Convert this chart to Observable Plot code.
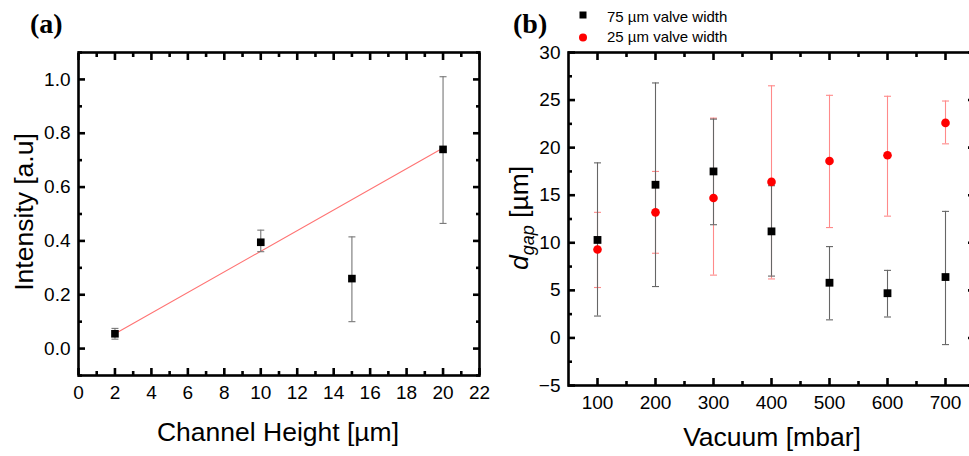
<!DOCTYPE html>
<html><head><meta charset="utf-8">
<script src="https://cdn.jsdelivr.net/npm/d3@7"></script>
<script src="https://cdn.jsdelivr.net/npm/@observablehq/plot@0.6"></script>
<style>
body{margin:0;overflow:hidden;background:#fff;}
#wrap{position:relative;width:969px;height:456px;overflow:hidden;background:#fff;}
#wrap svg{position:absolute;top:0;overflow:visible;}
</style></head><body><div id="wrap"></div>
<script>
// ---- Panel (a) data ----
const channelHeight = [2, 10, 15, 20];
const intensity     = [0.055, 0.395, 0.26, 0.74];
const intensityLo   = [0.035, 0.36, 0.10, 0.465];
const intensityHi   = [0.075, 0.44, 0.415, 1.01];
const fitX = [2, 20];
const fitY = [0.055, 0.745];
const xTicksA = [0, 2, 4, 6, 8, 10, 12, 14, 16, 18, 20, 22];
const xMinorA = [1, 3, 5, 7, 9, 11, 13, 15, 17, 19, 21];
const yTicksA = [0.0, 0.2, 0.4, 0.6, 0.8, 1.0];
const yMinorA = [-0.1, 0.1, 0.3, 0.5, 0.7, 0.9, 1.1];

// ---- Panel (b) data ----
const vacuum = [100, 200, 300, 400, 500, 600, 700];
const gap75   = [10.3, 16.1, 17.5, 11.2, 5.8, 4.7, 6.4];
const gap75Lo = [2.3, 5.4, 11.9, 6.5, 1.9, 2.2, -0.7];
const gap75Hi = [18.4, 26.8, 23.0, 16.0, 9.6, 7.1, 13.3];
const gap25   = [9.3, 13.2, 14.7, 16.4, 18.6, 19.2, 22.6];
const gap25Lo = [5.3, 8.9, 6.6, 6.2, 11.6, 12.8, 20.4];
const gap25Hi = [13.2, 17.5, 23.1, 26.5, 25.5, 25.4, 24.9];
const xTicksB = [100, 200, 300, 400, 500, 600, 700];
const xMinorB = [150, 250, 350, 450, 550, 650, 750];
const yTicksB = [-5, 0, 5, 10, 15, 20, 25, 30];
const yMinorB = [-2.5, 2.5, 7.5, 12.5, 17.5, 22.5, 27.5];
const seriesNames = ["75 \u00b5m valve width", "25 \u00b5m valve width"];

const wrap = document.getElementById("wrap");
const len = (size) => Math.sqrt(size / Math.PI);
const cap = {draw(ctx, s) { const w = len(s); ctx.moveTo(-w, 0); ctx.lineTo(w, 0); }};
const font = {fontFamily: "Arial, 'Liberation Sans', sans-serif", fontSize: "19px", color: "black", overflow: "visible"};

function frameTicks(xMaj, xMin, yMaj, yMin, xfmt, yfmt, xPad, yPad) {
  const m = [];
  const blank = () => "";
  const o = {tickFormat: blank, label: null, stroke: "black", strokeWidth: 2.6};
  for (const [arr, k] of [[xMaj, 7], [xMin, 4]]) {
    m.push(Plot.axisX(arr, {anchor: "bottom", tickSize: k, dy: -k, ...o}));
    m.push(Plot.axisX(arr, {anchor: "top", tickSize: k, dy: k, ...o}));
  }
  for (const [arr, k] of [[yMaj, 7], [yMin, 4]]) {
    m.push(Plot.axisY(arr, {anchor: "left", tickSize: k, dx: k, ...o}));
    m.push(Plot.axisY(arr, {anchor: "right", tickSize: k, dx: -k, ...o}));
  }
  m.push(Plot.axisX(xMaj, {anchor: "bottom", tickSize: 0, tickPadding: xPad, tickFormat: xfmt, label: null}));
  m.push(Plot.axisY(yMaj, {anchor: "left", tickSize: 0, tickPadding: yPad, tickFormat: yfmt, label: null}));
  return m;
}

// ---- Panel (a) ----
const dataA = channelHeight.map((x, i) => ({x, y: intensity[i], lo: intensityLo[i], hi: intensityHi[i]}));
const fitA = fitX.map((x, i) => ({x, y: fitY[i]}));
const plotA = Plot.plot({
  width: 485, height: 456,
  marginLeft: 78, marginRight: 6, marginTop: 52, marginBottom: 81,
  style: font,
  x: {domain: [0, 22]},
  y: {domain: [-0.1, 1.1]},
  marks: [
    Plot.line(fitA, {x: "x", y: "y", stroke: "#ff7373", strokeWidth: 1.1}),
    Plot.ruleX(dataA, {x: "x", y1: "lo", y2: "hi", stroke: "#777", strokeWidth: 1.1}),
    Plot.dot(dataA, {x: "x", y: "lo", symbol: cap, r: 3.5, stroke: "#777", strokeWidth: 1.1}),
    Plot.dot(dataA, {x: "x", y: "hi", symbol: cap, r: 3.5, stroke: "#777", strokeWidth: 1.1}),
    Plot.dot(dataA, {x: "x", y: "y", symbol: "square", r: 4.3, fill: "black", stroke: "none"}),
    ...frameTicks(xTicksA, xMinorA, yTicksA, yMinorA, d3.format("d"), d3.format(".1f"), 10, 8),
    Plot.frame({stroke: "black", strokeWidth: 2.6})
  ]
});
plotA.style.left = "0px";
wrap.appendChild(plotA);

// ---- Panel (b) ----
const d75 = vacuum.map((x, i) => ({x, y: gap75[i], lo: gap75Lo[i], hi: gap75Hi[i]}));
const d25 = vacuum.map((x, i) => ({x, y: gap25[i], lo: gap25Lo[i], hi: gap25Hi[i]}));
const plotB = Plot.plot({
  width: 495, height: 456,
  marginLeft: 83, marginRight: 6, marginTop: 52, marginBottom: 71,
  style: font,
  x: {domain: [50, 750]},
  y: {domain: [-5, 30]},
  marks: [
    Plot.ruleX(d25, {x: "x", y1: "lo", y2: "hi", stroke: "#ff8a8a", strokeWidth: 1.1}),
    Plot.dot(d25, {x: "x", y: "lo", symbol: cap, r: 3.5, stroke: "#ff8a8a", strokeWidth: 1.1}),
    Plot.dot(d25, {x: "x", y: "hi", symbol: cap, r: 3.5, stroke: "#ff8a8a", strokeWidth: 1.1}),
    Plot.ruleX(d75, {x: "x", y1: "lo", y2: "hi", stroke: "#666", strokeWidth: 1.1}),
    Plot.dot(d75, {x: "x", y: "lo", symbol: cap, r: 3.5, stroke: "#666", strokeWidth: 1.1}),
    Plot.dot(d75, {x: "x", y: "hi", symbol: cap, r: 3.5, stroke: "#666", strokeWidth: 1.1}),
    Plot.dot(d75, {x: "x", y: "y", symbol: "square", r: 4.4, fill: "black", stroke: "none"}),
    Plot.dot(d25, {x: "x", y: "y", symbol: "circle", r: 4.3, fill: "#ff0000", stroke: "none"}),
    ...frameTicks(xTicksB, xMinorB, yTicksB, yMinorB, d3.format("d"), d3.format("d"), 10, 8),
    Plot.frame({stroke: "black", strokeWidth: 2.6})
  ]
});
plotB.style.left = "485px";
wrap.appendChild(plotB);

// ---- Overlay: panel letters, axis titles, legend ----
const NS = "http://www.w3.org/2000/svg";
const ov = document.createElementNS(NS, "svg");
ov.setAttribute("width", 969); ov.setAttribute("height", 456);
ov.style.left = "0px"; ov.style.pointerEvents = "none";
const sans = "Arial, 'Liberation Sans', sans-serif";
const serif = "'Times New Roman', 'Liberation Serif', serif";
function txt(str, attrs) {
  const t = document.createElementNS(NS, "text");
  for (const k in attrs) t.setAttribute(k, attrs[k]);
  if (str != null) t.textContent = str;
  ov.appendChild(t); return t;
}
txt("(a)", {x: 30, y: 33, "font-family": serif, "font-weight": "bold", "font-size": 28});
txt("(b)", {x: 513, y: 33, "font-family": serif, "font-weight": "bold", "font-size": 28});
txt("Channel Height [\u00b5m]", {x: 278, y: 441, "text-anchor": "middle", "font-family": sans, "font-size": 26.5});
txt("Vacuum [mbar]", {x: 772, y: 446, "text-anchor": "middle", "font-family": sans, "font-size": 26.5});
txt("Intensity [a.u]", {transform: "translate(33,212) rotate(-90)", "text-anchor": "middle", "font-family": sans, "font-size": 26.5});
const dg = txt(null, {transform: "translate(528,218) rotate(-90)", "text-anchor": "middle", "font-family": sans, "font-size": 26.5});
const t1 = document.createElementNS(NS, "tspan"); t1.setAttribute("font-style", "italic"); t1.textContent = "d"; dg.appendChild(t1);
const t2 = document.createElementNS(NS, "tspan"); t2.setAttribute("font-style", "italic"); t2.setAttribute("font-size", 18); t2.setAttribute("dy", 6); t2.textContent = "gap"; dg.appendChild(t2);
const t3 = document.createElementNS(NS, "tspan"); t3.setAttribute("dy", -6); t3.textContent = " [\u00b5m]"; dg.appendChild(t3);
// legend
const sq = document.createElementNS(NS, "rect");
sq.setAttribute("x", 579.5); sq.setAttribute("y", 11.5); sq.setAttribute("width", 7); sq.setAttribute("height", 7); sq.setAttribute("fill", "black");
ov.appendChild(sq);
const ci = document.createElementNS(NS, "circle");
ci.setAttribute("cx", 583); ci.setAttribute("cy", 37.5); ci.setAttribute("r", 4); ci.setAttribute("fill", "#ff0000");
ov.appendChild(ci);
txt(seriesNames[0], {x: 607, y: 21.5, "font-family": sans, "font-size": 15});
txt(seriesNames[1], {x: 607, y: 41.5, "font-family": sans, "font-size": 15});
wrap.appendChild(ov);
</script>
</body></html>
